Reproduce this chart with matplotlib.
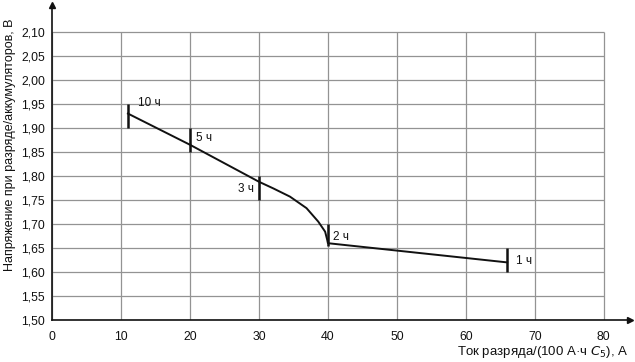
import numpy as np
import matplotlib
matplotlib.use('Agg')
import matplotlib.pyplot as plt

plt.rcParams['font.family'] = ['Liberation Sans', 'DejaVu Sans']

# discharge curve (current, voltage)
curve_x = [11, 20, 30, 32.1, 34.5, 36.9, 38.6, 39.6, 39.9, 40, 66]
curve_y = [1.93, 1.865, 1.788, 1.774, 1.757, 1.733, 1.705, 1.684, 1.667, 1.66, 1.62]

# hour markers: x, bar bottom, bar top, label, label x, label y, alignment
mark_x = [11, 20, 30, 40, 66]
mark_lo = [1.90, 1.85, 1.75, 1.655, 1.60]
mark_hi = [1.95, 1.90, 1.80, 1.70, 1.65]
mark_text = ['10 ч', '5 ч', '3 ч', '2 ч', '1 ч']
label_x = [12.4, 20.9, 29.3, 40.8, 67.3]
label_y = [1.952, 1.88, 1.772, 1.673, 1.622]
label_ha = ['left', 'left', 'right', 'left', 'left']

x_ticks = np.arange(0, 81, 10)
y_ticks = np.arange(1.50, 2.101, 0.05)

fig = plt.figure(figsize=(6.35, 3.62), dpi=100)
ax = fig.add_axes([0.082, 0.116, 0.910, 0.870])

ax.set_xlim(0, 83.8)
ax.set_ylim(1.50, 2.156)

# grid only inside the 0..80 / 1.50..2.10 box
ax.hlines(y_ticks, 0, 80, color='#939393', lw=0.9, zorder=1)
ax.vlines(x_ticks, 1.50, 2.10, color='#939393', lw=0.9, zorder=1)

ax.plot(curve_x, curve_y, color='#111111', lw=1.4, zorder=3,
        solid_joinstyle='round')
ax.vlines(mark_x, mark_lo, mark_hi, color='#111111', lw=1.8, zorder=3)
for t, lx, ly, ha in zip(mark_text, label_x, label_y, label_ha):
    ax.text(lx, ly, t, fontsize=8.5, ha=ha, va='center', color='#111111', zorder=4)

for s in ['top', 'right']:
    ax.spines[s].set_visible(False)
for s in ['left', 'bottom']:
    ax.spines[s].set_linewidth(1.2)
    ax.spines[s].set_color('#111111')
ax.plot(1, 0, '>', color='#111111', ms=5, transform=ax.transAxes, clip_on=False)
ax.plot(0, 1, '^', color='#111111', ms=5, transform=ax.transAxes, clip_on=False)

ax.set_xticks(x_ticks)
ax.set_xticklabels([str(v) for v in x_ticks])
ax.set_yticks(y_ticks)
ax.set_yticklabels([f'{v:.2f}'.replace('.', ',') for v in y_ticks])
ax.tick_params(length=0, labelsize=8.8, colors='#111111', pad=5)
ax.tick_params(axis='x', pad=8)

fig.text(0.016, 0.60, 'Напряжение при разряде/аккумуляторов, В', rotation=90,
         ha='center', va='center', fontsize=9, color='#111111')
fig.text(0.99, 0.027, 'Ток разряда/(100 А·ч $C_5$), А', ha='right', va='center',
         fontsize=9.5, color='#111111')

fig.savefig('out.png', dpi=100)
